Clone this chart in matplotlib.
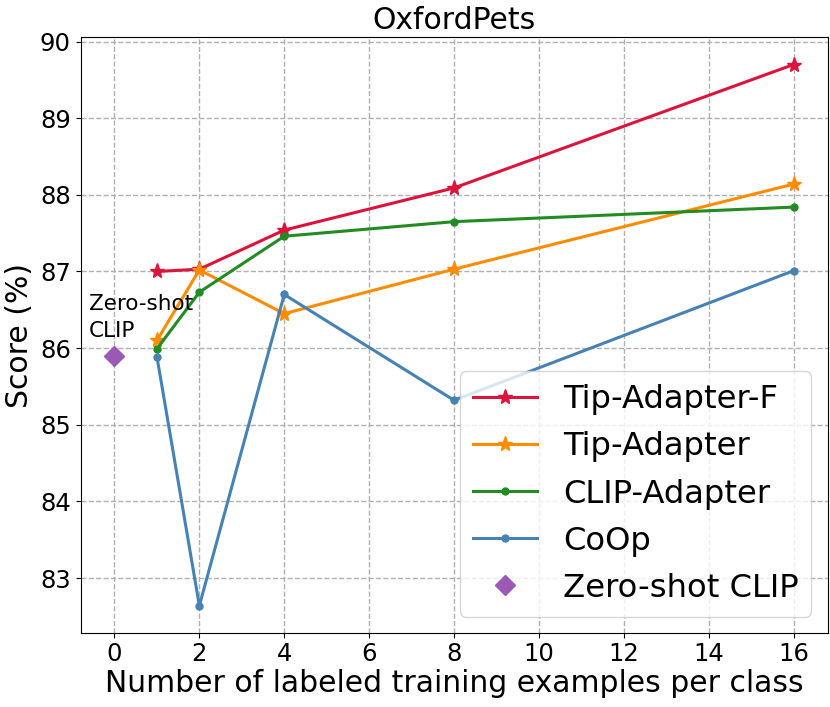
import matplotlib
matplotlib.use("Agg")
import matplotlib.pyplot as plt

shots = [1, 2, 4, 8, 16]
tip_adapter_f = [87.00, 87.03, 87.54, 88.09, 89.70]
tip_adapter = [86.10, 87.02, 86.45, 87.03, 88.14]
clip_adapter = [85.99, 86.73, 87.46, 87.65, 87.84]
coop = [85.89, 82.64, 86.70, 85.32, 87.01]
zs_x = [0]
zs_clip = [85.90]

fig, ax = plt.subplots(figsize=(8.3, 7.07), dpi=100)
fig.subplots_adjust(left=0.097, right=0.997, top=0.947, bottom=0.105)

ax.plot(shots, tip_adapter_f, color='crimson', marker='*', markersize=11, lw=2.2, label='Tip-Adapter-F')
ax.plot(shots, tip_adapter, color='darkorange', marker='*', markersize=11, lw=2.2, label='Tip-Adapter')
ax.plot(shots, clip_adapter, color='forestgreen', marker='o', markersize=5, lw=2.2, label='CLIP-Adapter')
ax.plot(shots, coop, color='steelblue', marker='o', markersize=5, lw=2.2, label='CoOp')
ax.plot(zs_x, zs_clip, color='#9b59b6', marker='D', markersize=10, lw=0, label='Zero-shot CLIP')

ax.text(-0.6, 86.14, 'Zero-shot\nCLIP', fontsize=15.5, ha='left', va='baseline', linespacing=1.45)

ax.grid(True, linestyle='--', color='#b0b0b0', lw=1)
ax.set_xticks([0, 2, 4, 6, 8, 10, 12, 14, 16])
ax.tick_params(labelsize=17.5)
ax.set_title('OxfordPets', fontsize=21.5)
ax.set_xlabel('Number of labeled training examples per class', fontsize=21.5, labelpad=2)
ax.set_ylabel('Score (%)', fontsize=21.5, labelpad=4)
ax.legend(loc='lower right', fontsize=23.2)

fig.savefig('out.png', dpi=100)
